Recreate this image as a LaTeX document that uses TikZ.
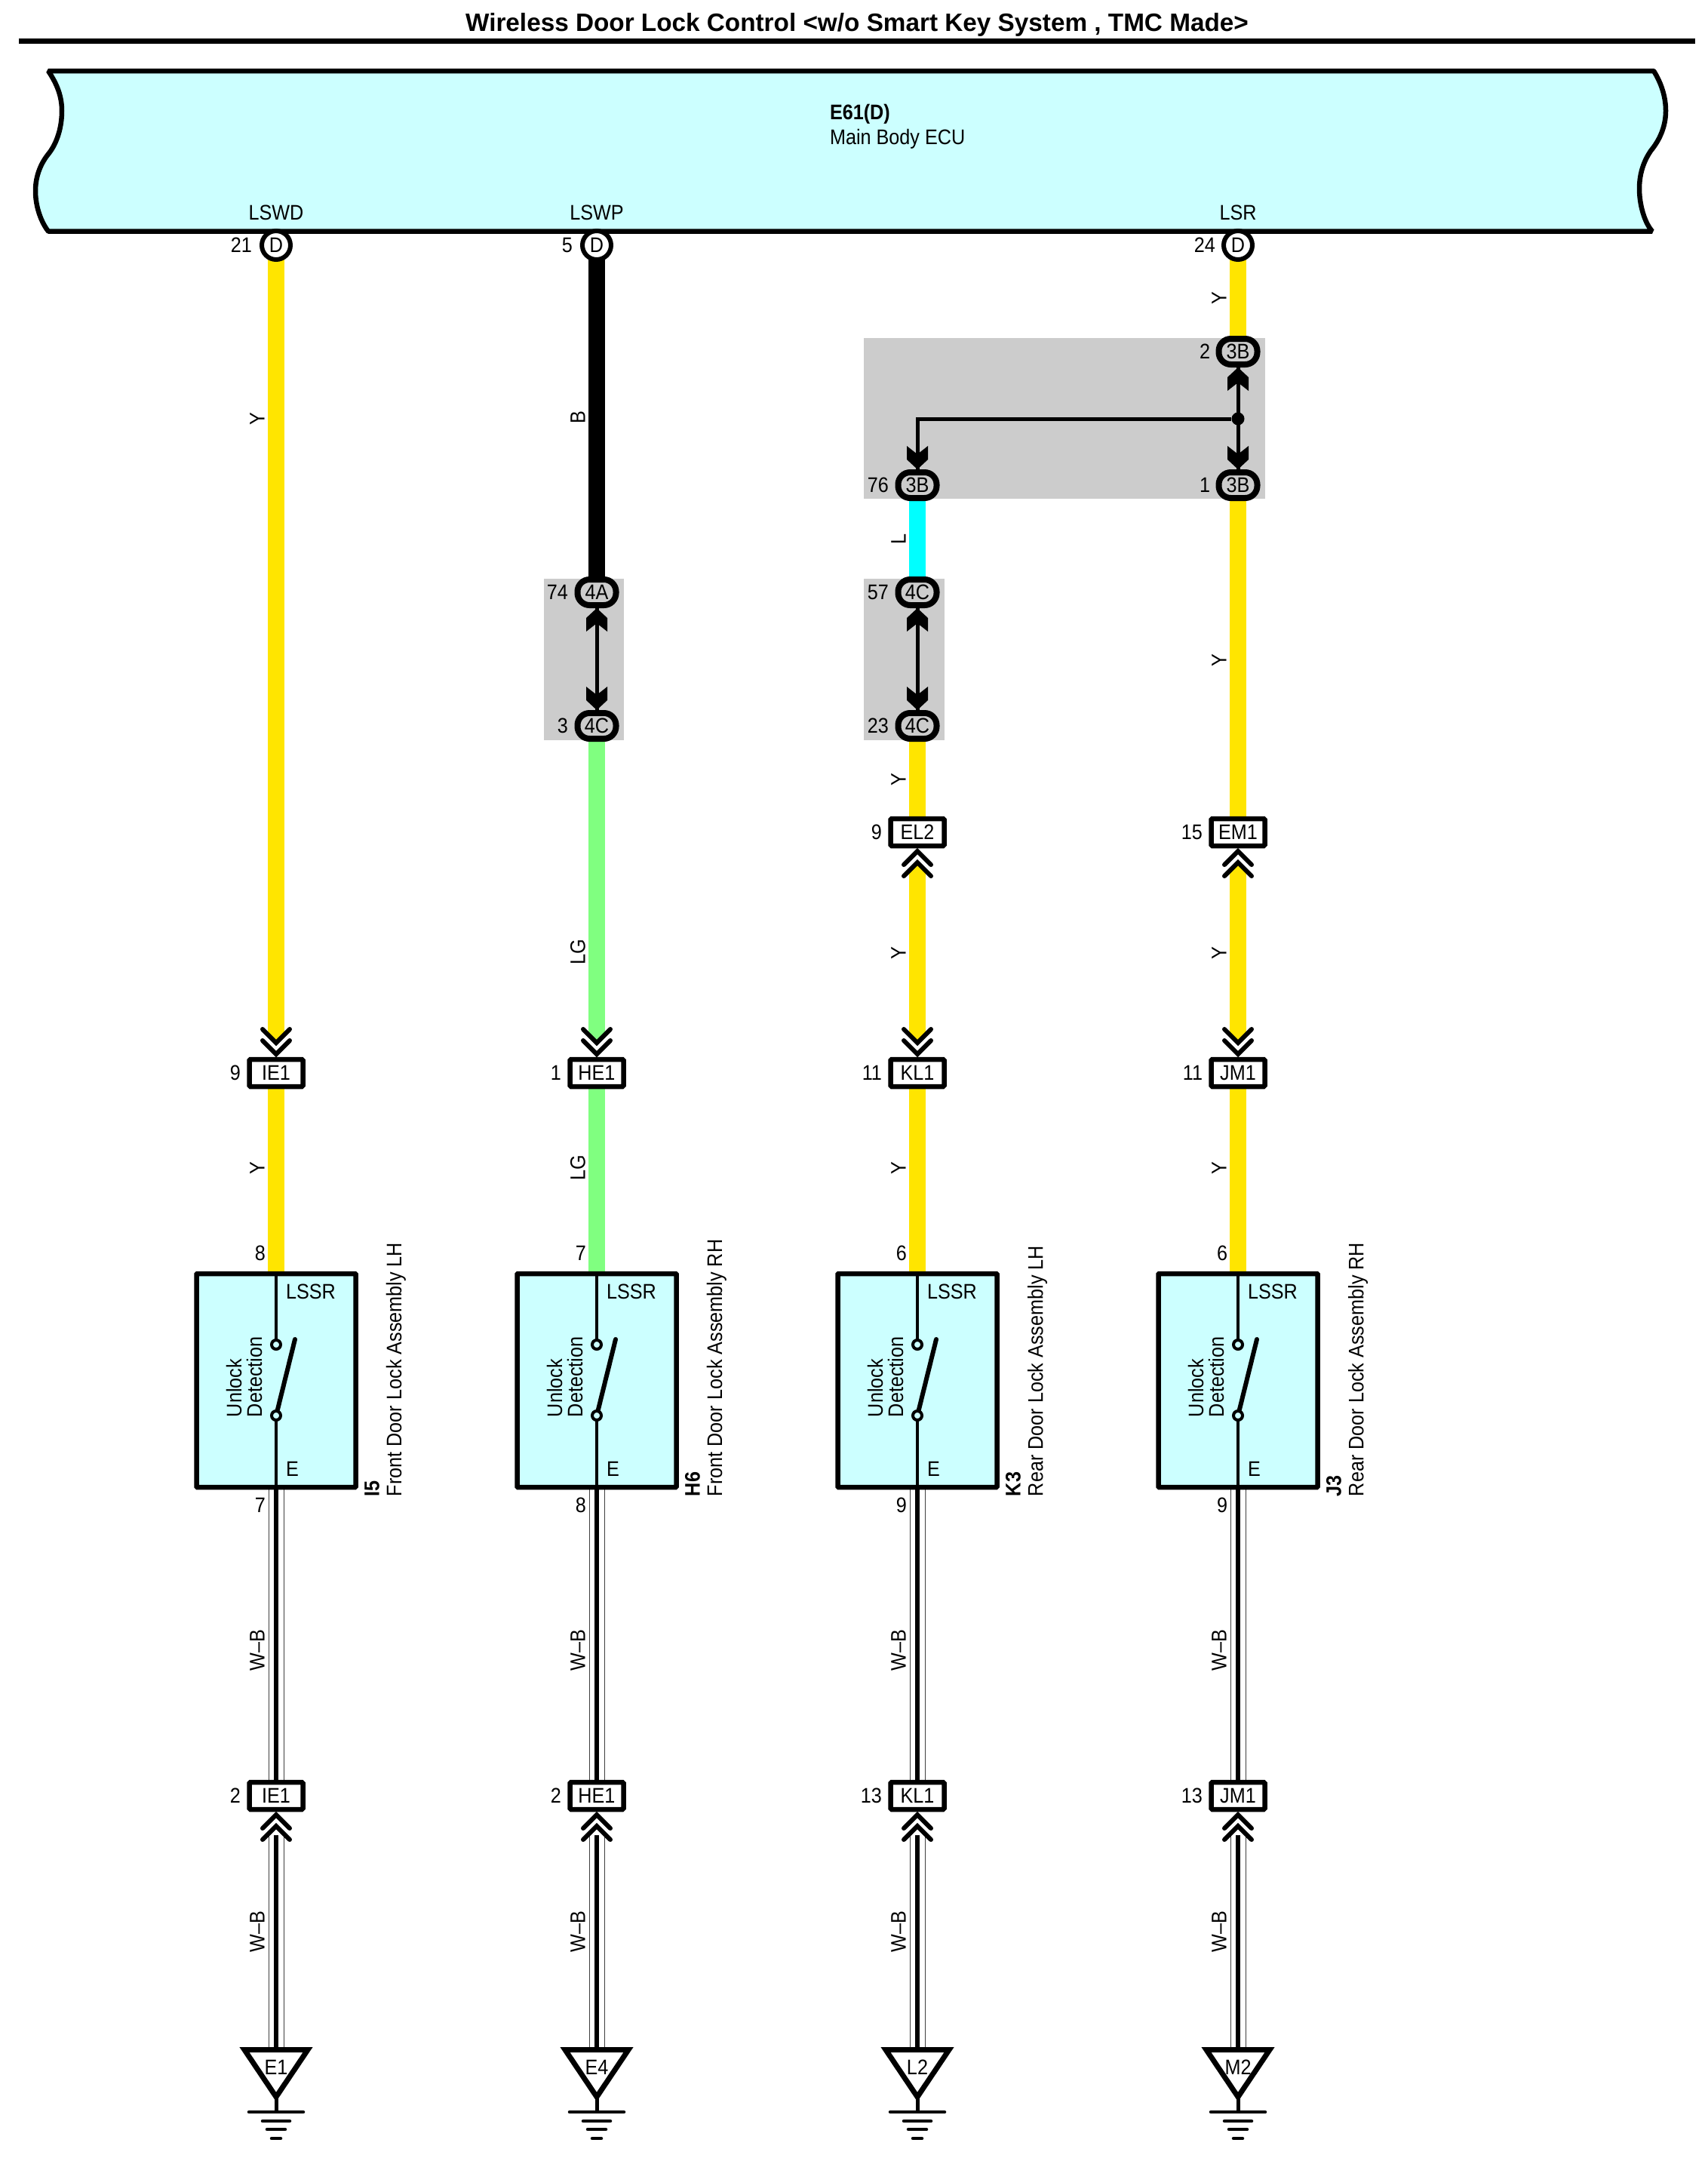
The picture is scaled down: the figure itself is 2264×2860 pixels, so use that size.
\documentclass[tikz,border=0pt]{standalone}
\usepackage{fontspec}
\setmainfont[FakeStretch=0.9]{Liberation Sans}
\newfontfamily\ttlfont{Liberation Sans}
\pgfdeclarelayer{greylayer}\pgfdeclarelayer{wires}\pgfdeclarelayer{boxes}\pgfdeclarelayer{inner}
\pgfsetlayers{greylayer,wires,boxes,inner,main}
\definecolor{wyel}{HTML}{FFE500}
\definecolor{wgrn}{HTML}{80FF80}
\definecolor{wcya}{HTML}{00FFFF}
\definecolor{wblk}{HTML}{000000}
\definecolor{ecuc}{HTML}{CCFFFF}
\definecolor{grayc}{HTML}{CCCCCC}
\newcommand{\wl}[4]{\node[wlab] (#1) at (#2,#3) {#4};}
\newcommand{\pn}[4]{\node[pinlab] (#1) at (#2,#3) {#4};}
\newcommand{\wbwire}[3][]{%
  \draw[wbout,#1] (#2) -- (#3);
  \draw[wbin,#1] (#2) -- (#3);}
\tikzset{
  txt/.style={inner sep=0pt,outer sep=0pt,font=\fontsize{28}{32}\selectfont},
  wlab/.style={txt,rotate=90},
  pinlab/.style={txt,anchor=east},
  sig/.style={txt},
  dcirc/.style={circle,draw,fill=white,line width=6pt,minimum size=38pt,inner sep=0pt,outer sep=0pt,font=\fontsize{28}{32}\selectfont},
  oval/.style={rectangle,draw,fill=grayc,line width=8pt,rounded corners=16pt,minimum width=51pt,minimum height=34pt,inner sep=0pt,outer sep=0pt,font=\fontsize{28}{32}\selectfont},
  conn/.style={rectangle,draw,fill=white,line width=6.5pt,rounded corners=1.5pt,minimum width=71pt,minimum height=36pt,inner sep=0pt,outer sep=0pt,font=\fontsize{28}{32}\selectfont},
  swbox/.style={rectangle,draw,fill=ecuc,line width=6.5pt,rounded corners=1pt,minimum width=211pt,minimum height=283pt,inner sep=0pt,outer sep=0pt},
  contact/.style={circle,draw,fill=ecuc,line width=4pt,minimum size=12pt,inner sep=0pt,outer sep=0pt},
  wire/.style={line width=22pt},
  wbout/.style={line width=21pt,draw=black!75},
  wbin/.style={line width=19pt,draw=white,postaction={draw=black,line width=6.5pt}},
  sline/.style={line width=4.5pt},
  iline/.style={line width=5pt},
  greybox/.style={fill=grayc},
  pics/chev/.style={code={
    \fill[#1] (-11,34) -- (11,34) -- (0,22) -- cycle;
    \draw[line width=6pt,line cap=round,line join=miter] (-18,25) -- (0,7) -- (18,25);
    \draw[line width=6pt,line cap=round,line join=miter] (-18,40) -- (0,22) -- (18,40);
  }},
  pics/block/.style={code={
    \fill (0,4) -- (14,17) -- (14,35) -- (0,24) -- (-14,35) -- (-14,17) -- cycle;
  }},
}
\begin{document}
\begin{tikzpicture}[x=1pt,y=-1pt]
\useasboundingbox (0,0) rectangle (2264,2860);
% title
\node[inner sep=0pt] (title) at (1136,33) {\ttlfont\bfseries\fontsize{33.3}{36}\selectfont Wireless Door Lock Control <w/o Smart Key System , TMC Made>};
\coordinate (rl) at (25,54.5); \coordinate (rr) at (2247,54.5);
\draw[line width=7pt] (rl) -- (rr);
% ECU
\draw[fill=ecuc,line width=6.5pt,line join=bevel] (64,94)
  .. controls (76,112) and (82,128) .. (82,147)
  .. controls (82,170) and (75,190) .. (65,203)
  .. controls (55,215) and (47,232) .. (47,253)
  .. controls (47,275) and (55,295) .. (64,306.5)
  -- (2190,306.5)
  .. controls (2180,295) and (2173,272) .. (2173,250)
  .. controls (2173,228) and (2180,212) .. (2188,200)
  .. controls (2198,188) and (2208,170) .. (2208,147)
  .. controls (2208,128) and (2202,110) .. (2192,94) -- cycle;
\node[txt,anchor=west] (ecua) at (1100,151) {\bfseries E61(D)};
\node[txt,anchor=west] (ecub) at (1100,184) {Main Body ECU};
\node[sig] (s1) at (366,282) {LSWD};
\node[sig] (s2) at (791,282) {LSWP};
\node[sig] (s4) at (1641,282) {LSR};
% top circles
\node[dcirc] (d1) at (366,325) {D}; \pn{pd1}{334}{325}{21}
\node[dcirc] (d2) at (791,325) {D}; \pn{pd2}{759}{325}{5}
\node[dcirc] (d4) at (1641,325) {D}; \pn{pd4}{1611}{325}{24}
% grey panels
\begin{pgfonlayer}{greylayer}
\fill[greybox] (721,767) rectangle (827,981);
\fill[greybox] (1145,767) rectangle (1252,981);
\fill[greybox] (1145,448) rectangle (1677,661);
\end{pgfonlayer}
% ovals
\node[oval] (o2a) at (791,785) {4A}; \pn{po2a}{753}{785}{74}
\node[oval] (o2b) at (791,962) {4C}; \pn{po2b}{753}{962}{3}
\node[oval] (o3a) at (1216,643) {3B}; \pn{po3a}{1178}{643}{76}
\node[oval] (o3b) at (1216,785) {4C}; \pn{po3b}{1178}{785}{57}
\node[oval] (o3c) at (1216,962) {4C}; \pn{po3c}{1178}{962}{23}
\node[oval] (o4a) at (1641,466) {3B}; \pn{po4a}{1604}{466}{2}
\node[oval] (o4b) at (1641,643) {3B}; \pn{po4b}{1604}{643}{1}
% upper connectors
\node[conn] (e3) at (1216,1103) {EL2}; \pn{pe3}{1169}{1103}{9}
\node[conn] (e4) at (1641,1103) {EM1}; \pn{pe4}{1594}{1103}{15}
% inner links
\node[circle,fill=black,minimum size=17pt,inner sep=0pt] (j) at (1641,555) {};
\begin{pgfonlayer}{inner}
\draw[iline] (o2a) -- (o2b);
\draw[iline] (o3b) -- (o3c);
\draw[iline] (o4a) -- (o4b);
\draw[iline] (j) -| (o3a.north);
\end{pgfonlayer}
\pic at (o2a.south) {block};
\pic[yscale=-1] at (o2b.north) {block};
\pic at (o3b.south) {block};
\pic[yscale=-1] at (o3c.north) {block};
\pic at (o4a.south) {block};
\pic[yscale=-1] at (o4b.north) {block};
\pic[yscale=-1] at (o3a.north) {block};
\pic at (e3.south) {chev=wyel};
\pic at (e4.south) {chev=wyel};
% columns
\foreach \n/\cx/\wc/\cn/\pa/\pb/\pc/\code/\ttl/\lp/\gnd/\wa in {
  1/366/wyel/IE1/9/8/7/I5/Front Door Lock Assembly LH/2/E1/Y,
  2/791/wgrn/HE1/1/7/8/H6/Front Door Lock Assembly RH/2/E4/LG,
  3/1216/wyel/KL1/11/6/9/K3/Rear Door Lock Assembly LH/13/L2/Y,
  4/1641/wyel/JM1/11/6/9/J3/Rear Door Lock Assembly RH/13/M2/Y}{
  \node[conn] (r\n) at (\cx,1422) {\cn};
  \node[pinlab] (pr\n) at (\cx-47,1422) {\pa};
  \node[conn] (q\n) at (\cx,2380) {\cn};
  \node[pinlab] (pq\n) at (\cx-47,2380) {\lp};
  \begin{pgfonlayer}{boxes}
    \node[swbox] (b\n) at (\cx,1829.5) {};
  \end{pgfonlayer}
  \node[contact] (k\n) at (\cx,1782) {};
  \node[contact] (m\n) at (\cx,1876) {};
  \coordinate (bl\n) at (\cx+25,1775);
  \begin{pgfonlayer}{inner}
    \draw[sline] (b\n.north) -- (k\n);
    \draw[sline] (m\n) -- (b\n.south);
    \draw[line width=6pt,line cap=round] (m\n) -- (bl\n);
  \end{pgfonlayer}
  \node[txt,anchor=west] (tl\n) at (\cx+13,1712) {LSSR};
  \node[txt,anchor=west] (te\n) at (\cx+13,1947) {E};
  \node[txt,rotate=90,anchor=west] (tu\n) at (\cx-56,1878) {Unlock};
  \node[txt,rotate=90,anchor=west] (td\n) at (\cx-29,1878) {Detection};
  \node[txt,rotate=90,anchor=west] (tc\n) at (\cx+127,1983) {\bfseries\code};
  \node[txt,rotate=90,anchor=west] (tt\n) at (\cx+159,1983) {\ttl};
  \node[pinlab] (pb\n) at (\cx-14,1661) {\pb};
  \node[pinlab] (pc\n) at (\cx-14,1995) {\pc};
  \begin{pgfonlayer}{wires}
    \draw[wire,draw=\wc] (r\n.south) -- (b\n.north);
    \wbwire{b\n.south}{q\n.north}
    \coordinate (ta\n) at (\cx,2716.5);
    \wbwire[shorten <=31pt]{q\n.south}{ta\n}
  \end{pgfonlayer}
  \pic[yscale=-1] at (r\n.north) {chev=\wc};
  \pic at (q\n.south) {chev=white};
  \draw[fill=white,line width=7pt] (\cx-42,2716.5) -- (\cx+42,2716.5) -- (\cx,2779) -- cycle;
  \node[txt] (g\n) at (\cx,2740) {\gnd};
  \coordinate (gt\n) at (\cx,2780);
  \coordinate (gb\n) at (\cx,2799);
  \draw[line width=5pt] (gt\n) -- (gb\n);
  \draw[line width=4.5pt,line cap=round] (\cx-36,2799) -- (\cx+36,2799);
  \draw[line width=4.5pt,line cap=round] (\cx-18,2811) -- (\cx+18,2811);
  \draw[line width=4.5pt,line cap=round] (\cx-12,2822) -- (\cx+12,2822);
  \draw[line width=4.5pt,line cap=round] (\cx-6,2834) -- (\cx+6,2834);
  \node[wlab] (w5\n) at (\cx-25,2187) {W--B};
  \node[wlab] (w6\n) at (\cx-25,2560) {W--B};
  \node[wlab] (w4\n) at (\cx-25,1548) {\wa};
}
% top wires
\begin{pgfonlayer}{wires}
\draw[wire,draw=wyel,shorten >=31pt] (d1.south) -- (r1.north);
\draw[wire,draw=wblk] (d2.south) -- (o2a.north);
\draw[wire,draw=wgrn,shorten >=31pt] (o2b.south) -- (r2.north);
\draw[wire,draw=wcya] (o3a.south) -- (o3b.north);
\draw[wire,draw=wyel] (o3c.south) -- (e3.north);
\draw[wire,draw=wyel,shorten <=31pt,shorten >=31pt] (e3.south) -- (r3.north);
\draw[wire,draw=wyel] (d4.south) -- (o4a.north);
\draw[wire,draw=wyel] (o4b.south) -- (e4.north);
\draw[wire,draw=wyel,shorten <=31pt,shorten >=31pt] (e4.south) -- (r4.north);
\end{pgfonlayer}
% wire labels
\wl{w1a}{341}{555}{Y}
\wl{w2a}{766}{553}{B}
\wl{w2b}{766}{1262}{LG}
\wl{w3a}{1191}{714}{L}
\wl{w3b}{1191}{1033}{Y}
\wl{w3c}{1191}{1263}{Y}
\wl{w4a}{1616}{395}{Y}
\wl{w4b}{1616}{875}{Y}
\wl{w4c}{1616}{1263}{Y}
\end{tikzpicture}
\end{document}
